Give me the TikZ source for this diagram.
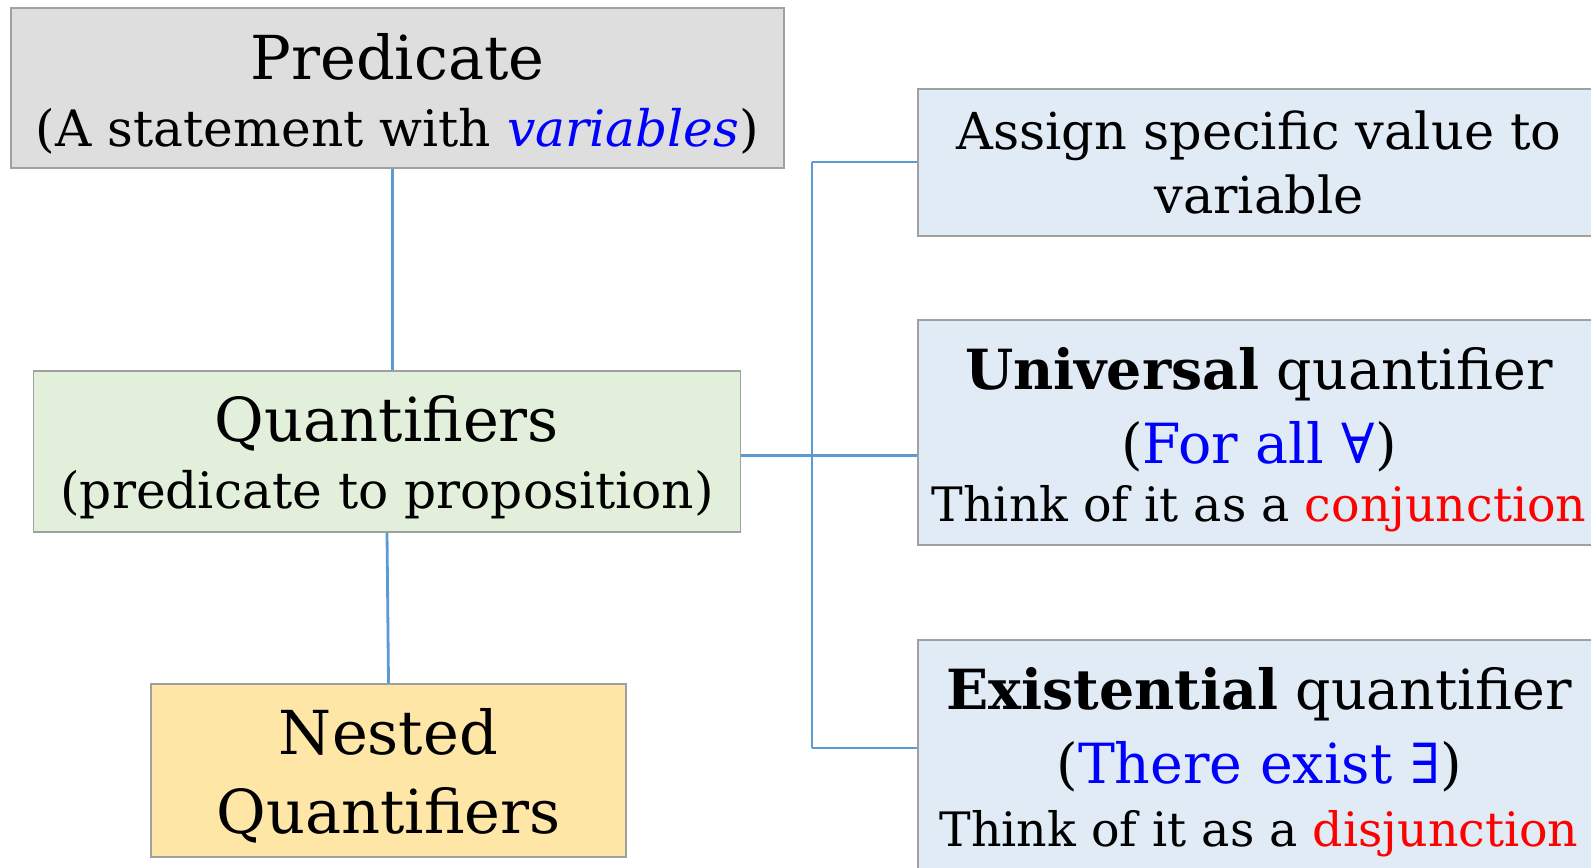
\documentclass[tikz,border=0pt]{standalone}
\usepackage{fontspec}
\setmainfont{DejaVu Serif}
\usepackage{tikz}
\usetikzlibrary{positioning}

\definecolor{predgray}{HTML}{DEDEDE}
\definecolor{quantgreen}{HTML}{E2EFDA}
\definecolor{nestyellow}{HTML}{FDE6A6}
\definecolor{boxblue}{HTML}{E0EBF6}
\definecolor{edgegray}{HTML}{A0A0A0}
\definecolor{linkblue}{HTML}{5B9BD5}
\definecolor{txtblue}{HTML}{0000FF}
\definecolor{txtred}{HTML}{FF0000}

\tikzset{
    box/.style={draw=edgegray, line width=0.8pt, align=center, inner sep=0pt},
    link/.style={draw=linkblue, line width=1.6pt},
}
\newcommand{\titlesz}{\fontsize{34.5}{45}\selectfont}
\newcommand{\subsz}{\fontsize{28.6}{38}\selectfont}
\newcommand{\bodysz}{\fontsize{29}{36}\selectfont}
\newcommand{\headsz}{\fontsize{31.5}{42}\selectfont}
\newcommand{\notesz}{\fontsize{27}{35}\selectfont}
\newcommand{\lift}[1]{\rule{0pt}{#1}}

\begin{document}
\begin{tikzpicture}[x=0.02cm, y=-0.02cm]
    \useasboundingbox (0,0) rectangle (1591,868);
    \clip (0,0) rectangle (1591,868);
    % Colonna di sinistra
    \node[box, fill=predgray, minimum width=15.46cm, minimum height=3.2cm, font=\subsz] (pred) at (397.5,88)
        {\lift{32.5pt}{\titlesz Predicate}\\ (A statement with \textcolor{txtblue}{\textit{variables}})};
    \node[box, fill=quantgreen, minimum width=14.15cm, minimum height=3.22cm, font=\subsz] (quant) at (387,451.5)
        {\lift{33pt}{\titlesz Quantifiers}\\ (predicate to proposition)};
    \node[box, fill=nestyellow, minimum width=9.5cm, minimum height=3.46cm, font=\titlesz] (nested) at (388.5,770.5)
        {\lift{32pt}Nested\\ Quantifiers};
    % Colonna di destra
    \node[box, fill=boxblue, minimum width=13.64cm, minimum height=2.94cm, font=\bodysz] (assign) at (1259,162.5)
        {Assign specific value to\\ variable};
    \node[box, fill=boxblue, minimum width=13.64cm, minimum height=4.5cm, font=\headsz] (univ) at (1259,432.5)
        {\lift{32pt}\textbf{Universal} quantifier\\ (\textcolor{txtblue}{For all ∀})\\[-9pt] {\notesz Think of it as a \textcolor{txtred}{conjunction}}};
    \node[box, fill=boxblue, minimum width=13.64cm, minimum height=4.64cm, font=\headsz] (exist) at (1259,756)
        {\lift{31pt}\textbf{Existential} quantifier\\ (\textcolor{txtblue}{There exist ∃})\\[-6pt] {\notesz Think of it as a \textcolor{txtred}{disjunction}}};
    % Collegamenti
    \coordinate (bustop) at (812,162);
    \coordinate (busbot) at (812,748);
    \draw[link] ([xshift=-0.1cm]pred.south) -- ([xshift=-0.1cm]pred.south |- quant.north);
    \draw[link] (quant.south) -- (nested.north);
    \draw[link] ([yshift=-0.08cm]quant.east) -- ([yshift=-0.08cm]quant.east -| univ.west);
    \draw[link] (bustop) -- (busbot);
    \draw[link] (bustop) -- (bustop -| assign.west);
    \draw[link] (busbot) -- (busbot -| exist.west);
\end{tikzpicture}
\end{document}
